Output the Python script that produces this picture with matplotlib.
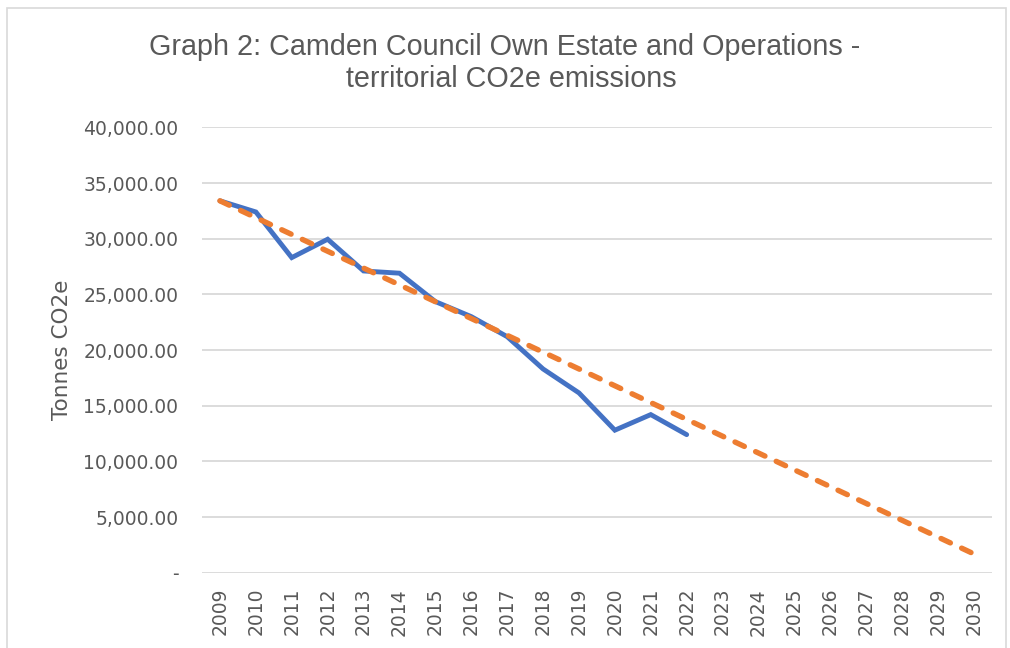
import matplotlib
matplotlib.use("Agg")
import matplotlib.pyplot as plt
from matplotlib.patches import Rectangle
from matplotlib.ticker import FuncFormatter

years = [str(y) for y in range(2009, 2031)]
actual = [33400, 32400, 28300, 29950, 27100, 26900, 24350, 23000, 21200,
          18300, 16150, 12800, 14200, 12400]
target = [33400, 31890, 30380, 28870, 27360, 25850, 24340, 22830, 21320,
          19810, 18300, 16790, 15280, 13770, 12260, 10750, 9240, 7730,
          6220, 4710, 3200, 1690]

TXT = "#595959"
GRID = "#D9D9D9"

fig = plt.figure(figsize=(10.1, 6.48), dpi=100)
ax = fig.add_axes([0.2, 0.1162, 0.782, 0.6873])

x_act = list(range(len(actual)))
x_tgt = list(range(len(target)))
ax.plot(x_act, actual, color="#4472C4", lw=3.5, solid_joinstyle="miter",
        solid_capstyle="round", zorder=3)
ax.plot(x_tgt, target, color="#ED7D31", lw=3.9, dashes=(1.9, 2.3),
        dash_capstyle="round", zorder=4)

ax.set_xlim(-0.5, len(years) - 0.5)
ax.set_ylim(0, 40000)
ax.set_yticks(range(0, 40001, 5000))
ax.yaxis.set_major_formatter(FuncFormatter(lambda v, p: "-" if v == 0 else f"{v:,.2f}"))
ax.set_xticks(x_tgt)
ax.set_xticklabels(years, rotation=90)

ax.grid(axis="y", color=GRID, lw=1.3)
ax.set_axisbelow(True)
for s in ax.spines.values():
    s.set_visible(False)
ax.tick_params(length=0, colors=TXT, labelsize=13.5)
ax.tick_params(axis="y", pad=17)
ax.tick_params(axis="x", pad=11)
for lab in ax.get_xticklabels() + ax.get_yticklabels():
    lab.set_color(TXT)

ax.set_ylabel("Tonnes CO2e", color=TXT, fontsize=15.5, labelpad=8)

fig.text(0.5, 1 - 47 / 648, "Graph 2: Camden Council Own Estate and Operations -",
         ha="center", va="center", fontsize=20.7, color=TXT, family="Liberation Sans")
fig.text(0.506, 1 - 79 / 648, "territorial CO2e emissions",
         ha="center", va="center", fontsize=20.7, color=TXT, family="Liberation Sans")

fig.patches.append(Rectangle((7 / 1010, -0.02), 999 / 1010, 1.02 - 7.5 / 648,
                             transform=fig.transFigure, fill=False,
                             edgecolor=GRID, lw=1.2))

fig.savefig("out.png", dpi=100)
